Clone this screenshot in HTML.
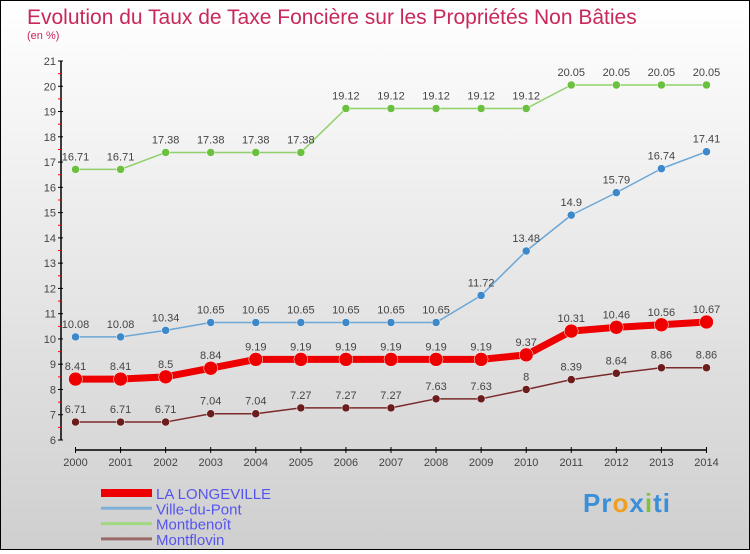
<!DOCTYPE html>
<html><head><meta charset="utf-8"><style>
html,body{margin:0;padding:0}
body{width:750px;height:550px;overflow:hidden;font-family:"Liberation Sans",sans-serif}
#wrap{position:relative;width:748px;height:548px;border:1px solid #000;background:linear-gradient(#ffffff,#cfcfcf)}
</style></head><body>
<div id="wrap">
<svg id="chart" width="748" height="548">
<text x="26" y="23" font-size="21" fill="#c8285a">Evolution du Taux de Taxe Foncière sur les Propriétés Non Bâties</text>
<text x="26" y="38" font-size="11" fill="#c8285a">(en %)</text>
<g id="axes"></g><g id="series"></g><g id="legend"></g>
</svg>
</div>
<script>
const years=["2000","2001","2002","2003","2004","2005","2006","2007","2008","2009","2010","2011","2012","2013","2014"];
const yTicks=[6,7,8,9,10,11,12,13,14,15,16,17,18,19,20,21];
const seriesNames=["LA LONGEVILLE","Ville-du-Pont","Montbenoît","Montflovin"];
const laLongeville=[8.41,8.41,8.5,8.84,9.19,9.19,9.19,9.19,9.19,9.19,9.37,10.31,10.46,10.56,10.67];
const villeDuPont=[10.08,10.08,10.34,10.65,10.65,10.65,10.65,10.65,10.65,11.72,13.48,14.9,15.79,16.74,17.41];
const montbenoit=[16.71,16.71,17.38,17.38,17.38,17.38,19.12,19.12,19.12,19.12,19.12,20.05,20.05,20.05,20.05];
const montflovin=[6.71,6.71,6.71,7.04,7.04,7.27,7.27,7.27,7.63,7.63,8,8.39,8.64,8.86,8.86];
const NS="http://www.w3.org/2000/svg";
const X0=74.5,DX=45.07,Y0=439,YMIN=6,YMAX=21,YTOP=60;
const xs=i=>X0+i*DX;
const ys=v=>Y0-(v-YMIN)*(Y0-YTOP)/(YMAX-YMIN);
function mk(tag,attrs,parent){const e=document.createElementNS(NS,tag);for(const k in attrs)e.setAttribute(k,attrs[k]);parent.appendChild(e);return e;}
const axes=document.getElementById('axes');
let a=mk('line',{x1:60,y1:YTOP,x2:60,y2:Y0,stroke:'#000','stroke-width':1.5},axes);


yTicks.forEach(t=>{
  const y=ys(t);
  const tk=mk('line',{x1:57,y1:y,x2:62,y2:y,stroke:'#000'},axes);
  
  
  if(t<YMAX){const m=mk('line',{x1:57,y1:y-12.6,x2:60,y2:y-12.6,stroke:'#f00'},axes);
  
  }
  const tx=mk('text',{x:55,y:y+4,'font-size':11,fill:'#444','text-anchor':'end'},axes);
  tx.textContent=t;
  
  
});
a=mk('line',{x1:X0,y1:449,x2:xs(14),y2:449,stroke:'#000','stroke-width':1.5},axes);


years.forEach((yr,i)=>{
  const tk=mk('line',{x1:xs(i),y1:446,x2:xs(i),y2:452,stroke:'#000'},axes);
  
  
  const tx=mk('text',{x:xs(i),y:465,'font-size':11,fill:'#444','text-anchor':'middle'},axes);
  tx.textContent=yr;
  
  
});
const ser=document.getElementById('series');
const defs=[
 [montflovin,'#7a2a2a','#6b1c1c',1.5,4,'montflovin'],
 [montbenoit,'#8fd06a','#6cc040',1.5,4,'montbenoit'],
 [villeDuPont,'#6aa6d6','#3d88c8',1.5,4,'ville-du-pont'],
 [laLongeville,'#ee0000','#ee0000',7,7,'la-longeville']
];
defs.forEach(([vals,lc,pc,w,r,nm])=>{
  const g=mk('g',{},ser);
  
  
  const p=mk('polyline',{points:vals.map((v,i)=>xs(i)+','+ys(v)).join(' '),fill:'none',stroke:lc,'stroke-width':w,'stroke-linejoin':'round'},g);
  
  
  vals.forEach((v,i)=>{
    const c=mk('circle',{cx:xs(i),cy:ys(v),r:r,fill:pc,stroke:'#fff','stroke-width':0.5},g);
    
    
    if(nm==='montflovin'&&(i===5||i===6||i===7)&&false){}
    const t=mk('text',{x:xs(i),y:ys(v)-9,'font-size':11,fill:'#444','text-anchor':'middle'},g);
    t.textContent=v;
    
    
  });
});
const lg=document.getElementById('legend');
const lcols=['#ee0000','#7fb0d8','#a0d880','#9a6a6a'];
const lw=[8,3,3,3];
seriesNames.forEach((n,i)=>{
  const y=492+i*15.3;
  const g=mk('g',{},lg);
  
  
  const l=mk('line',{x1:100,y1:y,x2:151,y2:y,stroke:lcols[i],'stroke-width':lw[i]},g);
  
  
  const t=mk('text',{x:155,y:y+6,'font-size':15,fill:'#5555ee'},g);
  t.textContent=n;
  
  
});
</script>
<div style="position:absolute;left:583px;top:488px;font-size:26px;font-weight:bold;font-family:'Liberation Sans',sans-serif;letter-spacing:1px"><span style="color:#3a8fd8">Pr</span><span style="color:#f0a020">o</span><span style="color:#3a8fd8">x</span><span style="color:#80c040">i</span><span style="color:#3a8fd8">ti</span></div>
</body></html>
